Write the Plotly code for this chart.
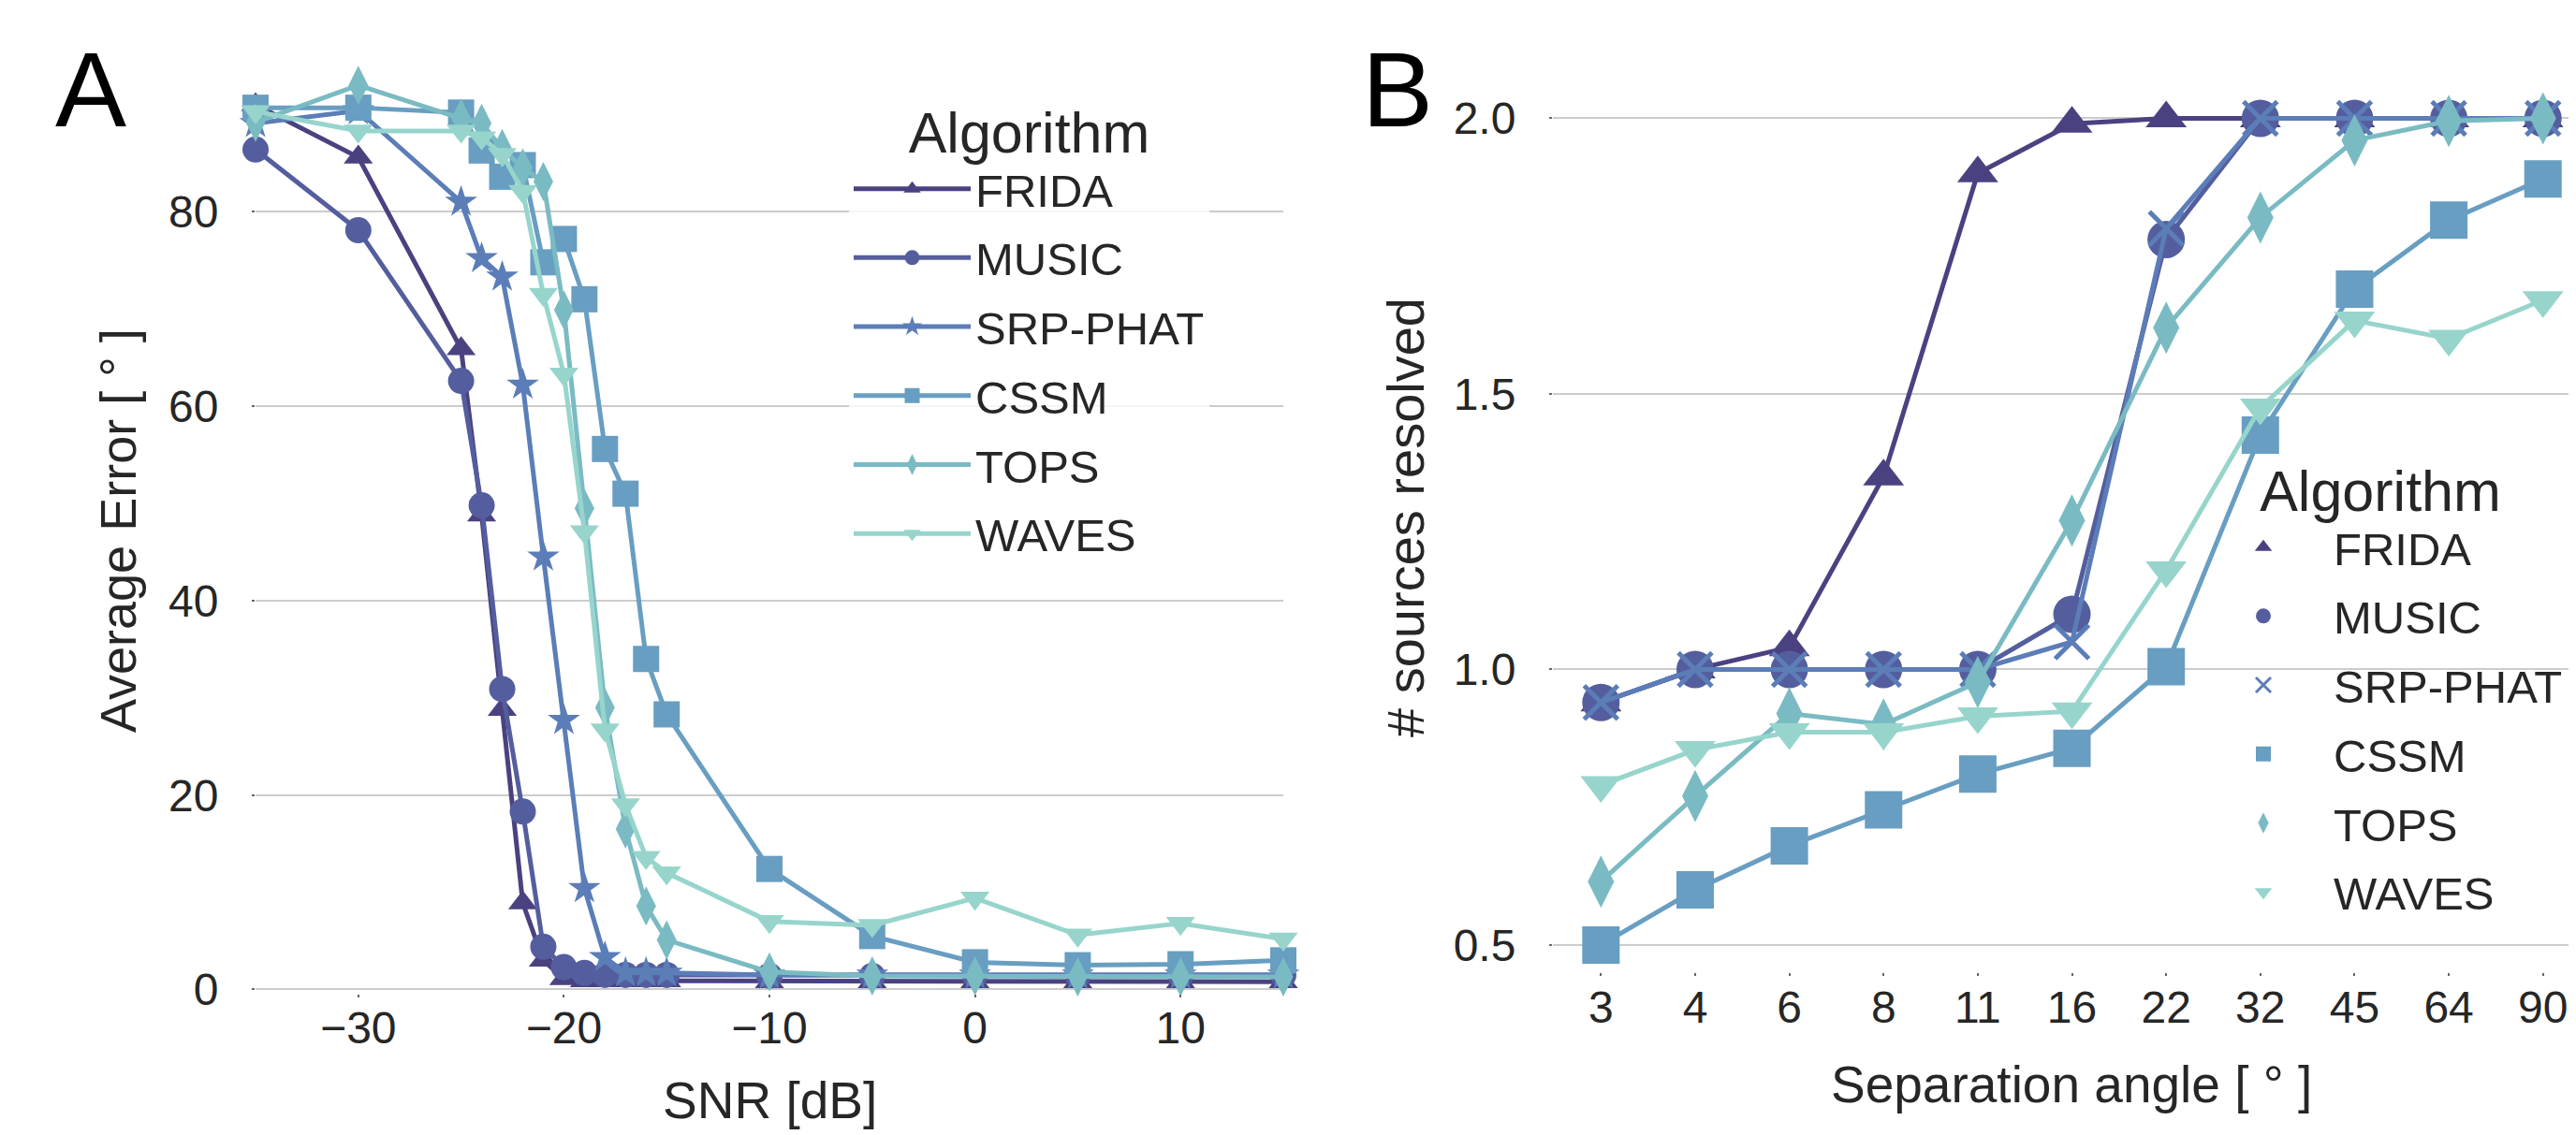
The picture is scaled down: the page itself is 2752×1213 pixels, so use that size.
import plotly.graph_objects as go

# ---------------- data ----------------
algorithms = ["FRIDA", "MUSIC", "SRP-PHAT", "CSSM", "TOPS", "WAVES"]
colors = ["#4a4280", "#545e9e", "#5b7db8", "#689ec1", "#7abbc3", "#97d5cc"]

snr_db = [-35, -30, -25, -24, -23, -22, -21, -20, -19, -18, -17, -16, -15, -10, -5, 0, 5, 10, 15]
err_frida = [91.0, 85.6, 65.9, 48.8, 28.8, 8.9, 3.0, 1.1, 0.9, 0.9, 0.9, 0.9, 0.9, 0.8, 0.8, 0.8, 0.8, 0.8, 0.8]
err_music = [86.4, 78.1, 62.6, 49.8, 30.9, 18.3, 4.4, 2.3, 1.7, 1.5, 1.5, 1.5, 1.5, 1.4, 1.4, 1.5, 1.5, 1.5, 1.5]
err_srp = [89.1, 90.4, 81.0, 75.2, 73.3, 62.2, 44.5, 27.7, 10.4, 3.3, 1.7, 1.7, 1.7, 1.5, 1.5, 1.5, 1.5, 1.5, 1.5]
err_cssm = [90.7, 90.7, 90.2, 86.3, 83.6, 84.8, 74.8, 77.2, 71.0, 55.6, 51.0, 34.0, 28.3, 12.4, 5.5, 2.8, 2.5, 2.6, 3.0]
err_tops = [89.2, 93.0, 89.6, 89.1, 86.5, 84.5, 83.1, 69.9, 49.5, 29.0, 16.5, 8.6, 5.1, 1.8, 1.4, 1.4, 1.3, 1.3, 1.3]
err_waves = [90.3, 88.3, 88.3, 87.6, 85.9, 82.1, 71.5, 63.3, 47.1, 26.7, 19.0, 13.6, 12.0, 7.0, 6.6, 9.4, 5.6, 6.8, 5.2]

sep_angle = ["3", "4", "6", "8", "11", "16", "22", "32", "45", "64", "90"]
res_frida = [0.94, 1.0, 1.04, 1.35, 1.90, 1.99, 2.0, 2.0, 2.0, 2.0, 2.0]
res_music = [0.94, 1.0, 1.0, 1.0, 1.0, 1.10, 1.78, 2.0, 2.0, 2.0, 2.0]
res_srp = [0.94, 1.0, 1.0, 1.0, 1.0, 1.05, 1.80, 2.0, 2.0, 2.0, 2.0]
res_cssm = [0.50, 0.60, 0.68, 0.745, 0.81, 0.857, 1.005, 1.425, 1.69, 1.815, 1.89]
res_tops = [0.615, 0.77, 0.92, 0.90, 0.977, 1.27, 1.62, 1.82, 1.96, 1.995, 2.0]
res_waves = [0.79, 0.854, 0.886, 0.886, 0.915, 0.924, 1.18, 1.475, 1.633, 1.60, 1.67]

err_series = [err_frida, err_music, err_srp, err_cssm, err_tops, err_waves]
res_series = [res_frida, res_music, res_srp, res_cssm, res_tops, res_waves]

# ---------------- styling ----------------
W, H = 2752, 1213
FONT = "Liberation Sans, Arial, Helvetica, sans-serif"
TXT = "#262626"
GRID = "#cccccc"

sym_a = ["triangle-up", "circle", "star", "square", "diamond-tall", "triangle-down"]
size_a = [27, 28, 26, 28, 30, 27]
sym_b = ["triangle-up", "circle", "x-thin", "square", "diamond-tall", "triangle-down"]
size_b = [38, 40, 36, 40, 40, 38]


def px_x(px):
    return px / W


def px_y(py):
    return 1 - py / H


fig = go.Figure()

# Panel A
for name, col, ys, sym, sz in zip(algorithms, colors, err_series, sym_a, size_a):
    fig.add_trace(go.Scatter(
        x=snr_db, y=ys, name=name, mode="lines+markers",
        line=dict(color=col, width=5),
        marker=dict(symbol=sym, size=sz, color=col, line=dict(width=0)),
        cliponaxis=False, xaxis="x", yaxis="y", legend="legend",
        legendgroup="a_" + name,
    ))

# Panel B (data traces)
for name, col, ys, sym, sz in zip(algorithms, colors, res_series, sym_b, size_b):
    mk = dict(symbol=sym, size=sz, color=col, line=dict(width=0))
    if sym == "x-thin":
        mk = dict(symbol=sym, size=sz, color=col, line=dict(width=5, color=col))
    fig.add_trace(go.Scatter(
        x=sep_angle, y=ys, name=name, mode="lines+markers",
        line=dict(color=col, width=5), marker=mk,
        cliponaxis=False, xaxis="x2", yaxis="y2", showlegend=False,
    ))
# Panel B legend entries (marker only, as in reference)
for name, col, sym, sz in zip(algorithms, colors, sym_b, size_b):
    mk = dict(symbol=sym, size=sz, color=col, line=dict(width=0))
    if sym == "x-thin":
        mk = dict(symbol=sym, size=sz, color=col, line=dict(width=3, color=col))
    fig.add_trace(go.Scatter(
        x=[None], y=[None], name=name, mode="markers", marker=mk,
        xaxis="x2", yaxis="y2", legend="legend2", legendgroup="b_" + name,
    ))

# geometry (pixels measured from reference)
a_left, a_right = 265, 1363
a_y0, a_y1 = -0.4, 94.5
a_zero_px, a_ppu = 1049.5, 10.39
a_bot = a_zero_px - a_y0 * a_ppu
a_top = a_zero_px - a_y1 * a_ppu

b_left, b_right = 1651, 2752
b_y0, b_y1 = 0.45, 2.05
b_ref_px, b_ppu = 118.4, 589.0  # 2.0 at 118.4 px
b_bot = b_ref_px + (2.0 - b_y0) * b_ppu
b_top = b_ref_px + (2.0 - b_y1) * b_ppu

tickfont = dict(family=FONT, size=48, color=TXT)
XSTAND = -8

fig.update_layout(
    width=W, height=H,
    margin=dict(l=0, r=0, t=0, b=0),
    paper_bgcolor="white", plot_bgcolor="white",
    font=dict(family=FONT, color=TXT),
    xaxis=dict(domain=[px_x(a_left), px_x(a_right)], range=[-35, 15],
               tickvals=[-30, -20, -10, 0, 10], showgrid=False, zeroline=False,
               showline=False, ticks="outside", ticklen=3, tickwidth=2, tickcolor="#666",
               tickfont=tickfont, ticklabelstandoff=XSTAND, automargin=False, anchor="y"),
    yaxis=dict(domain=[px_y(a_bot), px_y(a_top)], range=[a_y0, a_y1],
               tickvals=[0, 20, 40, 60, 80], showgrid=True, gridcolor=GRID, gridwidth=2,
               zeroline=False, showline=False, ticks="outside", ticklen=3, tickwidth=2,
               tickcolor="#666", tickfont=tickfont, ticklabelstandoff=26,
               automargin=False, anchor="x"),
    xaxis2=dict(domain=[px_x(b_left), px_x(b_right)], type="category",
                range=[-0.51, 10.43], showgrid=False, zeroline=False, showline=False,
                ticks="outside", ticklen=3, tickwidth=2, tickcolor="#666",
                tickfont=tickfont, ticklabelstandoff=XSTAND, automargin=False, anchor="y2"),
    yaxis2=dict(domain=[px_y(b_bot), px_y(b_top)], range=[b_y0, b_y1],
                tickvals=[0.5, 1.0, 1.5, 2.0], tickformat=".1f",
                showgrid=True, gridcolor=GRID, gridwidth=2, zeroline=False, showline=False,
                ticks="outside", ticklen=3, tickwidth=2, tickcolor="#666",
                tickfont=tickfont, ticklabelstandoff=26, automargin=False, anchor="x2"),
    legend=dict(x=px_x(899), y=px_y(76), xanchor="left", yanchor="top",
                bgcolor="rgba(255,255,255,0.8)", borderwidth=0,
                font=dict(family=FONT, size=49, color=TXT),
                title=dict(text="Algorithm", side="top center",
                           font=dict(family=FONT, size=61, color=TXT)),
                itemwidth=125, tracegroupgap=7, traceorder="grouped"),
    legend2=dict(x=px_x(2335), y=px_y(459), xanchor="left", yanchor="top",
                 bgcolor="rgba(255,255,255,0)", borderwidth=0,
                 font=dict(family=FONT, size=49, color=TXT),
                 title=dict(text="Algorithm", side="top center",
                            font=dict(family=FONT, size=61, color=TXT)),
                 itemwidth=140, tracegroupgap=7, traceorder="grouped"),
    showlegend=True,
)

ann = [
    dict(text="A", x=px_x(89), y=px_y(87), font=dict(size=114)),
    dict(text="B", x=px_x(1485), y=px_y(87), font=dict(size=114)),
    dict(text="Average Error [ ° ]", x=px_x(118), y=px_y(559), textangle=-90, font=dict(size=54)),
    dict(text="SNR [dB]", x=px_x(814), y=px_y(1168), font=dict(size=55)),
    dict(text="# sources resolved", x=px_x(1493), y=px_y(545), textangle=-90, font=dict(size=56)),
    dict(text="Separation angle [ ° ]", x=px_x(2205), y=px_y(1151), font=dict(size=55)),
]
for a in ann:
    a.update(xref="paper", yref="paper", showarrow=False, xanchor="center", yanchor="middle")
    a["font"].update(family=FONT, color=TXT if a["text"] not in ("A", "B") else "black")
fig.update_layout(annotations=ann)

fig.write_html("out.html")
